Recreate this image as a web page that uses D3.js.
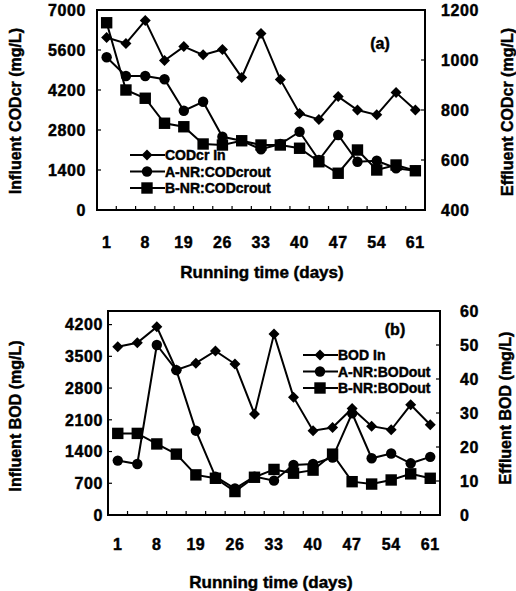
<!DOCTYPE html>
<html>
<head>
<meta charset="utf-8">
<script src="https://cdn.jsdelivr.net/npm/d3@7"></script>
<style>
  html, body { margin: 0; padding: 0; background: #fff; }
  svg { display: block; }
  text { font-family: Arial, "Liberation Sans", sans-serif; font-weight: bold; fill: #000; stroke: #000; stroke-width: 0.45px; }
</style>
</head>
<body>
<svg id="chart" width="516" height="591"></svg>
<script>
// ---- Data ----
const xLabels = ["1","","8","","19","","26","","33","","40","","47","","54","","61"];

// Panel (a)
const codIn     = [6040,5830,6630,5230,5720,5430,5620,4640,6180,4570,3380,3170,3970,3500,3330,4110,3500];
const codOutA   = [1011,936,936,923,797,833,693,677,643,664,713,600,700,593,597,567,557];
const codOutB   = [1149,880,847,747,733,664,660,677,660,660,647,593,547,640,560,580,557];
const codLeftTicks  = [0,1400,2800,4200,5600,7000];
const codRightTicks = [400,600,800,1000,1200];

// Panel (b)
const bodIn     = [3710,3800,4150,3200,3350,3620,3330,2230,3990,2600,1860,1930,2350,1960,1880,2430,1990];
const bodOutA   = [16.0,15.0,50.0,42.6,24.8,11.3,7.8,11.3,10.1,14.7,15.0,16.9,29.9,16.7,18.1,15.2,17.1];
const bodOutB   = [24.0,24.0,20.9,17.9,11.8,10.8,6.9,11.1,13.4,12.3,13.2,17.9,9.8,9.1,10.3,12.1,10.8];
const bodLeftTicks  = [0,700,1400,2100,2800,3500,4200];
const bodRightTicks = [0,10,20,30,40,50,60];

const svg = d3.select("#chart");

function diamond(g, x, y, s) {
  g.append("path").attr("d", `M${x},${y-s}L${x+s},${y}L${x},${y+s}L${x-s},${y}Z`).attr("fill", "#000");
}
function circle(g, x, y, r) {
  g.append("circle").attr("cx", x).attr("cy", y).attr("r", r).attr("fill", "#000");
}
function square(g, x, y, s) {
  g.append("rect").attr("x", x - s).attr("y", y - s).attr("width", 2*s).attr("height", 2*s).attr("fill", "#000");
}
const markers = {
  diamond: (g,x,y) => diamond(g,x,y,5.5),
  circle: (g,x,y) => circle(g,x,y,5.2),
  square: (g,x,y) => square(g,x,y,5.7)
};

function panel(cfg) {
  const g = svg.append("g");
  const n = xLabels.length;
  const x = d3.scaleBand().domain(d3.range(n)).range([cfg.left, cfg.right]).padding(0);
  const yL = d3.scaleLinear().domain(cfg.leftDomain).range([cfg.bottom, cfg.top]);
  const yR = d3.scaleLinear().domain(cfg.rightDomain).range([cfg.bottom, cfg.top]);
  const cx = i => x(i) + x.bandwidth() / 2;

  // frame
  g.append("rect").attr("x", cfg.left).attr("y", cfg.top)
    .attr("width", cfg.right - cfg.left).attr("height", cfg.bottom - cfg.top)
    .attr("fill", "none").attr("stroke", "#000").attr("stroke-width", 2);

  // left ticks (inward)
  cfg.leftTicks.forEach(v => {
    g.append("line").attr("x1", cfg.left).attr("x2", cfg.left + 4)
      .attr("y1", yL(v)).attr("y2", yL(v)).attr("stroke", "#000").attr("stroke-width", 1.2);
    g.append("text").attr("x", cfg.leftLabelX).attr("y", yL(v)).attr("dy", "0.36em")
      .attr("text-anchor", "end").attr("font-size", 16).attr("letter-spacing", 0.6).text(v);
  });
  // right ticks (inward)
  cfg.rightTicks.forEach(v => {
    g.append("line").attr("x1", cfg.right).attr("x2", cfg.right - 4)
      .attr("y1", yR(v)).attr("y2", yR(v)).attr("stroke", "#000").attr("stroke-width", 1.2);
    g.append("text").attr("x", cfg.rightLabelX).attr("y", yR(v)).attr("dy", "0.36em")
      .attr("text-anchor", "start").attr("font-size", 16).attr("letter-spacing", 0.6).text(v);
  });
  // bottom ticks at category boundaries (inward)
  for (let i = 1; i < n; i++) {
    g.append("line").attr("x1", x(i)).attr("x2", x(i))
      .attr("y1", cfg.bottom).attr("y2", cfg.bottom - 4).attr("stroke", "#000").attr("stroke-width", 1.2);
  }
  xLabels.forEach((lab, i) => {
    if (lab) g.append("text").attr("x", cx(i)).attr("y", cfg.xLabelY).attr("dy", "0.36em")
      .attr("text-anchor", "middle").attr("font-size", 16).attr("letter-spacing", 0.6).text(lab);
  });

  // series
  cfg.series.forEach(s => {
    const sc = s.axis === "left" ? yL : yR;
    const line = d3.line().x((d, i) => cx(i)).y(d => sc(d));
    g.append("path").datum(s.values).attr("d", line)
      .attr("fill", "none").attr("stroke", "#000").attr("stroke-width", 2);
    s.values.forEach((v, i) => markers[s.marker](g, cx(i), sc(v)));
  });

  // legend
  cfg.series.forEach((s, k) => {
    const ly = cfg.legendY + k * cfg.legendStep;
    g.append("line").attr("x1", cfg.legendX).attr("x2", cfg.legendX + 35)
      .attr("y1", ly).attr("y2", ly).attr("stroke", "#000").attr("stroke-width", 2);
    markers[s.marker](g, cfg.legendX + 17, ly);
    g.append("text").attr("x", cfg.legendX + 35).attr("y", ly).attr("dy", "0.36em")
      .attr("font-size", 14).text(s.name);
  });

  // panel tag
  g.append("text").attr("x", cfg.tagX).attr("y", cfg.tagY).attr("dy", "0.36em")
    .attr("text-anchor", "middle").attr("font-size", 16).text(cfg.tag);

  // axis titles
  g.append("text").attr("transform", `translate(${cfg.leftTitleX},${cfg.leftTitleY}) rotate(-90)`)
    .attr("dy", "0.36em").attr("text-anchor", "middle").attr("font-size", 16).text(cfg.leftTitle);
  g.append("text").attr("transform", `translate(${cfg.rightTitleX},${cfg.rightTitleY}) rotate(-90)`)
    .attr("dy", "0.36em").attr("text-anchor", "middle").attr("font-size", 16).text(cfg.rightTitle);
  g.append("text").attr("x", cfg.xTitleX).attr("y", cfg.xTitleY).attr("dy", "0.36em")
    .attr("text-anchor", "middle").attr("font-size", 17).text("Running time (days)");
}

panel({
  left: 97, right: 425, top: 10, bottom: 210,
  leftDomain: [0, 7000], rightDomain: [400, 1200],
  leftTicks: codLeftTicks, rightTicks: codRightTicks,
  leftLabelX: 86, rightLabelX: 441, xLabelY: 242,
  series: [
    { name: "CODcr In", values: codIn, axis: "left", marker: "diamond" },
    { name: "A-NR:CODcrout", values: codOutA, axis: "right", marker: "circle" },
    { name: "B-NR:CODcrout", values: codOutB, axis: "right", marker: "square" }
  ],
  legendX: 130, legendY: 155, legendStep: 16.5,
  tag: "(a)", tagX: 380, tagY: 43,
  leftTitle: "Influent CODcr (mg/L)", leftTitleX: 15, leftTitleY: 111,
  rightTitle: "Effluent CODcr (mg/L)", rightTitleX: 507, rightTitleY: 112,
  xTitleX: 262, xTitleY: 272
});

panel({
  left: 108, right: 440, top: 311, bottom: 515,
  leftDomain: [0, 4500], rightDomain: [0, 60],
  leftTicks: bodLeftTicks, rightTicks: bodRightTicks,
  leftLabelX: 103, rightLabelX: 460, xLabelY: 544,
  series: [
    { name: "BOD In", values: bodIn, axis: "left", marker: "diamond" },
    { name: "A-NR:BODout", values: bodOutA, axis: "right", marker: "circle" },
    { name: "B-NR:BODout", values: bodOutB, axis: "right", marker: "square" }
  ],
  legendX: 303, legendY: 355, legendStep: 16.5,
  tag: "(b)", tagX: 395, tagY: 329,
  leftTitle: "Influent BOD (mg/L)", leftTitleX: 15, leftTitleY: 416,
  rightTitle: "Effluent BOD (mg/L)", rightTitleX: 505, rightTitleY: 408,
  xTitleX: 271, xTitleY: 582
});
</script>
</body>
</html>
